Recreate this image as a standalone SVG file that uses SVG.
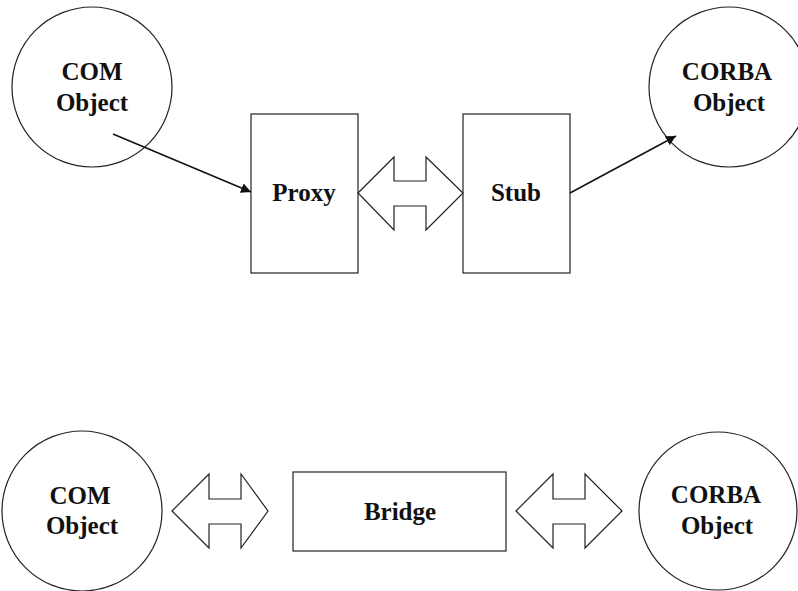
<svg xmlns="http://www.w3.org/2000/svg" width="798" height="591" viewBox="0 0 798 591">
<style>
.shape{fill:#fff;stroke:#222;stroke-width:1.2}
.lbl{font-family:"Liberation Serif","Times New Roman",serif;font-weight:bold;font-size:25px;fill:#111;text-anchor:middle}
.conn{stroke:#111;stroke-width:1.5;fill:none}
</style>
<defs>
<marker id="ah" viewBox="0 0 10 10" refX="10" refY="5" markerWidth="10" markerHeight="10" markerUnits="userSpaceOnUse" orient="auto">
<path d="M0,0 L10,5 L0,10 Z" fill="#111"/>
</marker>
</defs>
<rect width="798" height="591" fill="#fff"/>
<g id="com-top">
<circle class="shape" cx="92" cy="87" r="80"/>
<text class="lbl" x="92" y="80">COM</text>
<text class="lbl" x="92" y="111">Object</text>
</g>
<g id="corba-top">
<circle class="shape" cx="729" cy="87" r="80"/>
<text class="lbl" x="727" y="80">CORBA</text>
<text class="lbl" x="729" y="111">Object</text>
</g>
<g id="proxy">
<rect class="shape" x="251" y="114" width="107" height="159"/>
<text class="lbl" x="304" y="201">Proxy</text>
</g>
<g id="stub">
<rect class="shape" x="463" y="114" width="107" height="159"/>
<text class="lbl" x="516" y="201">Stub</text>
</g>
<g id="com-bottom">
<circle class="shape" cx="82" cy="511" r="80"/>
<text class="lbl" x="80" y="504">COM</text>
<text class="lbl" x="82" y="534">Object</text>
</g>
<g id="bridge">
<rect class="shape" x="293" y="472" width="213" height="79"/>
<text class="lbl" x="400" y="520">Bridge</text>
</g>
<g id="corba-bottom">
<circle class="shape" cx="718" cy="511" r="79"/>
<text class="lbl" x="716" y="503">CORBA</text>
<text class="lbl" x="717" y="534">Object</text>
</g>
<g id="connectors">
<line class="conn" x1="113" y1="134" x2="251" y2="192" marker-end="url(#ah)"/>
<line class="conn" x1="570" y1="193" x2="676" y2="136" marker-end="url(#ah)"/>
<path class="shape" d="M358,193 L394,157 L394,181 L426,181 L426,157 L463,193 L426,230 L426,206 L394,206 L394,230 Z"/>
<path class="shape" d="M172,511 L209,474 L209,499 L241,499 L241,474 L268,511 L241,548 L241,524 L209,524 L209,548 Z"/>
<path class="shape" d="M516,511 L553,474 L553,499 L585,499 L585,474 L622,511 L585,548 L585,524 L553,524 L553,548 Z"/>
</g>
</svg>
